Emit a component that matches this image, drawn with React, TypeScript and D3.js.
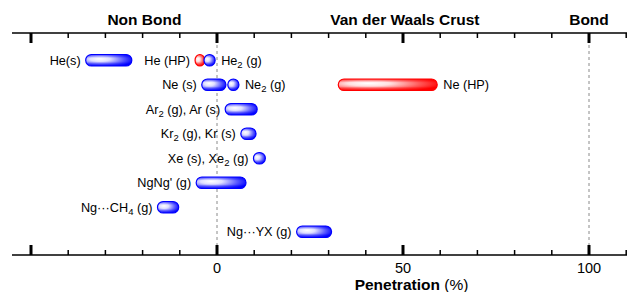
import * as d3 from "d3";
import { useEffect, useRef } from "react";

// species shown on each row, "_2" marks a subscript
const species = [
    "He(s)", "He (HP)", "He_2 (g)",
    "Ne (s)", "Ne_2 (g)", "Ne (HP)",
    "Ar_2 (g), Ar (s)", "Kr_2 (g), Kr (s)", "Xe (s), Xe_2 (g)",
    "NgNg' (g)", "Ng\u00b7\u00b7\u00b7CH_4 (g)", "Ng\u00b7\u00b7\u00b7YX (g)"
];
const rowIndex = [0, 0, 0, 1, 1, 1, 2, 3, 4, 5, 6, 7];
const lowPct = [-35.3, -5.9, -3.5, -4.1, 2.9, 32.6, 2.2, 6.4, 9.8, -5.6, -16.0, 21.4];
const highPct = [-22.9, -3.3, -0.5, 2.4, 5.9, 59.2, 10.8, 10.5, 13.0, 7.8, -10.3, 30.8];
const highPressure = [false, true, false, false, false, true, false, false, false, false, false, false];
const labelSide = ["left", "left", "right", "left", "right", "right", "left", "left", "left", "left", "left", "left"];

const regions = ["Non Bond", "Van der Waals Crust", "Bond"];
const regionCenters = [-19.5, 50.5, 100];
const tickLabels = [0, 50, 100];

function App() {
    const ref = useRef(null);

    useEffect(() => {
        const root = d3.select(ref.current);
        root.selectAll("*").remove();

        const width = 629;
        const height = 292;
        const topY = 33;
        const bottomY = 255;
        const font = "Liberation Sans, Arial, Helvetica, sans-serif";

        const x = d3.scaleLinear().domain([-50, 100]).range([31, 589]);
        const y = d3.scaleBand()
            .domain(d3.range(8).map(String))
            .range([48, 244]);

        const svg = root.append("svg")
            .attr("width", width)
            .attr("height", height)
            .style("position", "absolute")
            .style("left", 0)
            .style("top", 0)
            .style("font-family", font);

        const defs = svg.append("defs");
        const makeGrad = (id, col) => {
            const mix = d3.interpolateRgb("#ffffff", col);
            const g = defs.append("radialGradient")
                .attr("id", id)
                .attr("cx", 0.33).attr("cy", 0.42).attr("r", 0.72)
                .attr("fx", 0.3).attr("fy", 0.38);
            g.append("stop").attr("offset", 0).attr("stop-color", "#ffffff");
            g.append("stop").attr("offset", 0.3).attr("stop-color", mix(0.12));
            g.append("stop").attr("offset", 0.7).attr("stop-color", mix(0.65));
            g.append("stop").attr("offset", 1).attr("stop-color", col);
            const v = defs.append("linearGradient")
                .attr("id", id + "-v")
                .attr("x1", 0).attr("y1", 0).attr("x2", 0).attr("y2", 1);
            v.append("stop").attr("offset", 0).attr("stop-color", col).attr("stop-opacity", 0.5);
            v.append("stop").attr("offset", 0.3).attr("stop-color", col).attr("stop-opacity", 0);
            v.append("stop").attr("offset", 0.65).attr("stop-color", col).attr("stop-opacity", 0);
            v.append("stop").attr("offset", 1).attr("stop-color", col).attr("stop-opacity", 0.75);
        };
        makeGrad("gBlue", "#0000ff");
        makeGrad("gRed", "#ff0000");

        // region titles
        svg.append("g").selectAll("text")
            .data(regions)
            .enter()
            .append("text")
            .attr("x", (d, i) => x(regionCenters[i]))
            .attr("y", 25)
            .attr("text-anchor", "middle")
            .attr("font-size", "15.5px")
            .attr("font-weight", "bold")
            .text(d => d);

        // dashed reference lines
        svg.append("g").selectAll("line")
            .data([0, 100])
            .enter()
            .append("line")
            .attr("x1", d => x(d)).attr("x2", d => x(d))
            .attr("y1", topY).attr("y2", bottomY)
            .attr("stroke", "#8a8a8a")
            .attr("stroke-width", 1)
            .attr("stroke-dasharray", "3,3");

        // axes (ticks point inward)
        const minor = d3.range(-50, 111, 10).filter(d => d % 50 !== 0);
        const major = [-50, 0, 50, 100];
        [[topY, 1], [bottomY, -1]].forEach(([ay, dir]) => {
            const g = svg.append("g");
            g.append("line")
                .attr("x1", 12).attr("x2", 627)
                .attr("y1", ay).attr("y2", ay)
                .attr("stroke", "#000").attr("stroke-width", 1.5);
            g.selectAll(".minor")
                .data(minor)
                .enter()
                .append("line")
                .attr("x1", d => x(d)).attr("x2", d => x(d))
                .attr("y1", ay).attr("y2", ay + dir * 5)
                .attr("stroke", "#000").attr("stroke-width", 1.5);
            g.selectAll(".major")
                .data(major)
                .enter()
                .append("line")
                .attr("x1", d => x(d)).attr("x2", d => x(d))
                .attr("y1", ay).attr("y2", ay + dir * 10)
                .attr("stroke", "#000").attr("stroke-width", 3);
        });

        svg.append("g").selectAll("text")
            .data(tickLabels)
            .enter()
            .append("text")
            .attr("x", d => x(d))
            .attr("y", 273)
            .attr("text-anchor", "middle")
            .attr("font-size", "14.5px")
            .text(d => d);

        const title = svg.append("text")
            .attr("x", 411.5)
            .attr("y", 289.5)
            .attr("text-anchor", "middle")
            .attr("font-size", "15.5px");
        title.append("tspan").attr("font-weight", "bold").text("Penetration");
        title.append("tspan").text(" (%)");

        // pills
        const pillH = 11.5;
        const rowY = i => y(String(rowIndex[i])) + y.bandwidth() / 2;
        const pills = svg.append("g").selectAll("g")
            .data(species.map((s, i) => i))
            .enter()
            .append("g");
        pills.each(function (i) {
            const g = d3.select(this);
            const x0 = x(lowPct[i]);
            const w = x(highPct[i]) - x0;
            const r = Math.min(pillH / 2, w / 2);
            const id = highPressure[i] ? "gRed" : "gBlue";
            const col = highPressure[i] ? "#ff0000" : "#0000ff";
            g.append("rect")
                .attr("x", x0).attr("y", rowY(i) - pillH / 2)
                .attr("width", w).attr("height", pillH)
                .attr("rx", r).attr("ry", pillH / 2)
                .attr("fill", `url(#${id})`);
            g.append("rect")
                .attr("x", x0).attr("y", rowY(i) - pillH / 2)
                .attr("width", w).attr("height", pillH)
                .attr("rx", r).attr("ry", pillH / 2)
                .attr("fill", `url(#${id}-v)`)
                .attr("stroke", col)
                .attr("stroke-width", 1.2);
        });

        // labels with subscripts
        const labels = svg.append("g").selectAll("text")
            .data(species.map((s, i) => i))
            .enter()
            .append("text")
            .attr("x", i => labelSide[i] === "left" ? x(lowPct[i]) - 5 : x(highPct[i]) + 6)
            .attr("y", i => rowY(i) + 4.5)
            .attr("text-anchor", i => labelSide[i] === "left" ? "end" : "start")
            .attr("font-size", "12.7px");
        labels.each(function (i) {
            const t = d3.select(this);
            const parts = species[i].split(/_(\d)/);
            let sub = false;
            parts.forEach((p, k) => {
                if (k % 2 === 1) {
                    t.append("tspan").attr("dy", 3).attr("font-size", "9.5px").text(p);
                    sub = true;
                } else if (p.length) {
                    t.append("tspan").attr("dy", sub ? -3 : 0).text(p);
                    sub = false;
                }
            });
        });
    }, []);

    return (
        <div ref={ref}></div>
    );
}

export default App;
